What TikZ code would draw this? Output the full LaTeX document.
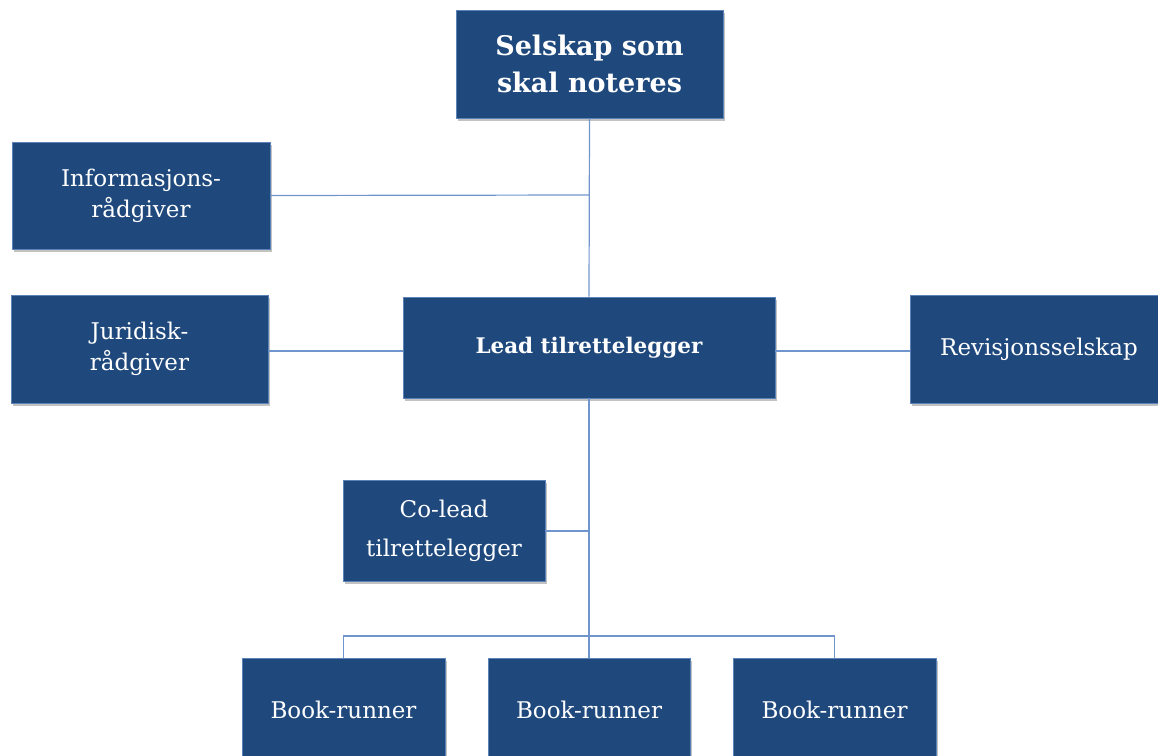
\documentclass[tikz,border=0pt]{standalone}
\usepackage{fontspec}
\setmainfont{DejaVu Serif}
\usetikzlibrary{shadows}
\definecolor{boxblue}{HTML}{1F497D}
\definecolor{edgeblue}{HTML}{5B83B8}
\definecolor{lineblue}{HTML}{6F95CC}
\tikzset{
  orgbox/.style={draw=edgeblue, line width=0.8pt, fill=boxblue, text=white,
    align=center, inner sep=0pt, font=\fontsize{23}{31}\selectfont,
    drop shadow={shadow xshift=1.5pt, shadow yshift=-2.5pt, opacity=0.4, fill=black!60}},
  conn/.style={draw=lineblue, line width=1.2pt}
}
\begin{document}
\begin{tikzpicture}[x=1pt,y=-1pt]
\useasboundingbox (0,0) rectangle (1158,755);
\clip (0,0) rectangle (1158,755);
\node[orgbox, minimum width=267pt, minimum height=108pt,
  font=\bfseries\fontsize{27}{37}\selectfont] (top) at (589.5,64) {Selskap som\\skal noteres};
\node[orgbox, minimum width=258pt, minimum height=107pt] (info) at (141,195.5) {\raisebox{-4pt}{\shortstack{Informasjons-\\[3pt]rådgiver}}};
\node[orgbox, minimum width=257pt, minimum height=108pt] (jur) at (139.5,349) {Juridisk-\\rådgiver};
\node[orgbox, minimum width=372pt, minimum height=101pt, font=\bfseries\fontsize{21.5}{31}\selectfont] (lead) at (589,347.5) {Lead tilrettelegger};
\node[orgbox, minimum width=258pt, minimum height=108pt] (rev) at (1039,349) {Revisjonsselskap};
\node[orgbox, minimum width=202pt, minimum height=101pt, font=\fontsize{23}{39}\selectfont] (co) at (444,530.5) {Co-lead\\tilrettelegger};
\node[orgbox, minimum width=203pt, minimum height=108pt] (b1) at (343.5,712) {\raisebox{4pt}{Book-runner}};
\node[orgbox, minimum width=202pt, minimum height=108pt] (b2) at (589,712) {\raisebox{4pt}{Book-runner}};
\node[orgbox, minimum width=203pt, minimum height=108pt] (b3) at (834.5,712) {\raisebox{4pt}{Book-runner}};
\coordinate (j1) at (589,195);
\coordinate (j2) at (589,531);
\coordinate (bus) at (589,636);
\draw[conn] (top.south) -- (lead.north);
\draw[conn] (info.east) -- (j1);
\draw[conn] (jur.east |- 0,351) -- (lead.west |- 0,351);
\draw[conn] (lead.east |- 0,351) -- (rev.west |- 0,351);
\draw[conn] (lead.south) -- (b2.north);
\draw[conn] (co.east |- j2) -- (j2);
\draw[conn] (b1.north) -- (b1.north |- bus) -- (b3.north |- bus) -- (b3.north);
\end{tikzpicture}
\end{document}
